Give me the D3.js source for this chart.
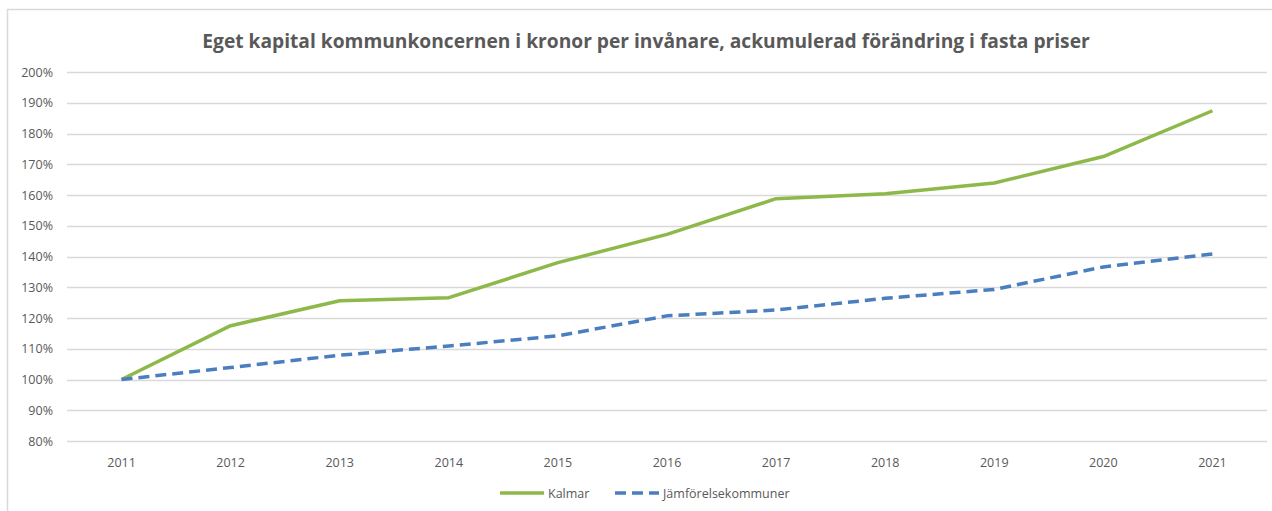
<!DOCTYPE html>
<html>
<head>
<meta charset="utf-8">
<script src="https://cdn.jsdelivr.net/npm/d3@7"></script>
<style>
  body { margin: 0; background: #fff; }
  svg text { font-family: "Open Sans", "Noto Sans", sans-serif; fill: #595959; }
</style>
</head>
<body>
<svg id="chart" width="1272" height="511"></svg>
<script>
// chart data
const years = ["2011", "2012", "2013", "2014", "2015", "2016", "2017", "2018", "2019", "2020", "2021"];
const kalmar = [100, 117.5, 125.6, 126.6, 138, 147.2, 158.8, 160.4, 163.9, 172.5, 187.4];
const jamfor = [100, 103.9, 107.9, 110.9, 114.2, 120.7, 122.6, 126.4, 129.3, 136.6, 140.8];
const yTicks = [80, 90, 100, 110, 120, 130, 140, 150, 160, 170, 180, 190, 200];

const title = "Eget kapital kommunkoncernen i kronor per invånare, ackumulerad förändring i fasta priser";
const series = [
  { name: "Kalmar", values: kalmar, color: "#8db84a", dash: null },
  { name: "Jämförelsekommuner", values: jamfor, color: "#4a7ebf", dash: "11,6" }
];

const svg = d3.select("#chart");

// outer frame
svg.append("path")
  .attr("d", "M7.5,511 V9.5 H1272")
  .attr("fill", "none")
  .attr("stroke", "#d9d9d9")
  .attr("stroke-width", 1.5);

const x = d3.scaleBand().domain(years).range([67, 1267]);
const y = d3.scaleLinear().domain([80, 200]).range([441, 72]);

// title
svg.append("text")
  .attr("x", 646)
  .attr("y", 48)
  .attr("text-anchor", "middle")
  .style("font-size", "19.2px")
  .style("font-weight", "bold")
  .text(title);

// gridlines
svg.append("g")
  .selectAll("line")
  .data(yTicks)
  .join("line")
  .attr("x1", 67)
  .attr("x2", 1267)
  .attr("y1", d => Math.round(y(d)) + 0.5)
  .attr("y2", d => Math.round(y(d)) + 0.5)
  .attr("stroke", "#d9d9d9")
  .attr("stroke-width", 1.3);

// y axis labels
svg.append("g")
  .selectAll("text")
  .data(yTicks)
  .join("text")
  .attr("x", 53)
  .attr("y", d => y(d) + 4.5)
  .attr("text-anchor", "end")
  .style("font-size", "12.5px")
  .text(d => d + "%");

// x axis labels
svg.append("g")
  .selectAll("text")
  .data(years)
  .join("text")
  .attr("x", d => x(d) + x.bandwidth() / 2)
  .attr("y", 467)
  .attr("text-anchor", "middle")
  .style("font-size", "12.5px")
  .text(d => d);

// lines
const line = d3.line()
  .x((d, i) => x(years[i]) + x.bandwidth() / 2)
  .y(d => y(d));

svg.append("g")
  .selectAll("path")
  .data(series)
  .join("path")
  .attr("d", d => line(d.values))
  .attr("fill", "none")
  .attr("stroke", d => d.color)
  .attr("stroke-width", 3.5)
  .attr("stroke-dasharray", d => d.dash)
  .attr("stroke-linejoin", "round");

// legend
const legendX = [500, 615];
const legend = svg.append("g")
  .selectAll("g")
  .data(series)
  .join("g")
  .attr("transform", (d, i) => `translate(${legendX[i]},493)`);

legend.append("line")
  .attr("x1", 0)
  .attr("x2", 44)
  .attr("stroke", d => d.color)
  .attr("stroke-width", 3.5)
  .attr("stroke-dasharray", d => d.dash);

legend.append("text")
  .attr("x", 48)
  .attr("y", 4.5)
  .style("font-size", "12.5px")
  .text(d => d.name);
</script>
</body>
</html>
